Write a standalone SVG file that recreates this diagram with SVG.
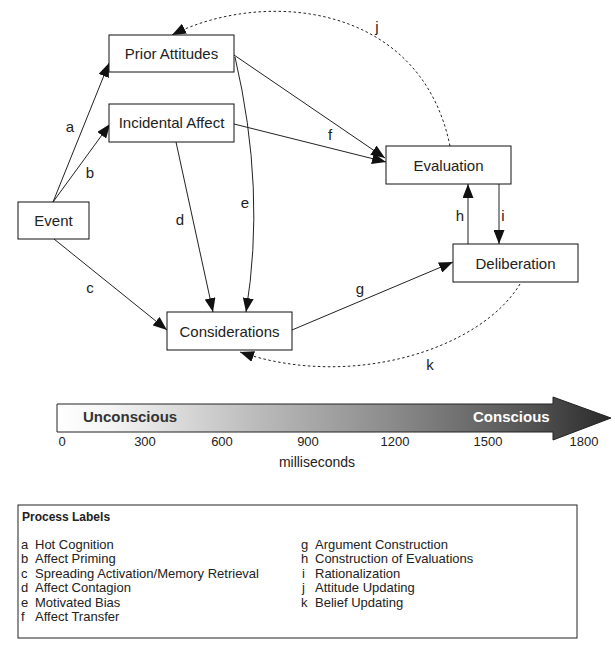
<svg xmlns="http://www.w3.org/2000/svg" width="615" height="645" viewBox="0 0 615 645">
<style>
.box{fill:#fff;stroke:#111;stroke-width:1}
.nl{font-family:"Liberation Sans",Arial,sans-serif;font-size:15px;fill:#222;text-anchor:middle}
.el{font-family:"Liberation Sans",Arial,sans-serif;font-size:15px;fill:#222;text-anchor:middle}
.edge{fill:none;stroke:#222;stroke-width:1}
.dash{fill:none;stroke:#222;stroke-width:1;stroke-dasharray:2.5 2.5}
.tk{font-family:"Liberation Sans",Arial,sans-serif;font-size:13px;fill:#222;text-anchor:middle}
.pl{font-family:"Liberation Sans",Arial,sans-serif;font-size:13px;fill:#222}
</style>
<defs>
<marker id="ah" markerUnits="userSpaceOnUse" markerWidth="15" markerHeight="11" refX="14" refY="5.5" orient="auto">
<path d="M0,0 L14,5.5 L0,11 z" fill="#111"/>
</marker>
<linearGradient id="tg" gradientUnits="userSpaceOnUse" x1="57" y1="0" x2="611" y2="0">
<stop offset="0" stop-color="#ffffff"/>
<stop offset="0.1" stop-color="#f4f4f4"/>
<stop offset="0.35" stop-color="#bdbdbd"/>
<stop offset="0.6" stop-color="#8c8c8c"/>
<stop offset="0.85" stop-color="#555555"/>
<stop offset="1" stop-color="#2a2a2a"/>
</linearGradient>
</defs>

<g id="connectors">
<path class="edge" d="M53,202 L109,63" marker-end="url(#ah)"/>
<path class="edge" d="M53,202 L110,124" marker-end="url(#ah)"/>
<path class="edge" d="M54,239 L167,330" marker-end="url(#ah)"/>
<path class="edge" d="M176,142 L213,312" marker-end="url(#ah)"/>
<path class="edge" d="M235,57 Q266,190 246,312" marker-end="url(#ah)"/>
<path class="edge" d="M234,55 L385,158" marker-end="url(#ah)"/>
<path class="edge" d="M234,124 L386,162" marker-end="url(#ah)"/>
<path class="edge" d="M292,330 L453,262" marker-end="url(#ah)"/>
<path class="edge" d="M468,244 L468,184" marker-end="url(#ah)"/>
<path class="edge" d="M499,184 L499,244" marker-end="url(#ah)"/>
<path class="dash" d="M450,146 C420,0 260,-10 172,35" marker-end="url(#ah)"/>
<path class="dash" d="M520,284 C480,350 350,390 240,352" marker-end="url(#ah)"/>
<text class="el" x="70" y="132">a</text>
<text class="el" x="90" y="178">b</text>
<text class="el" x="90" y="293">c</text>
<text class="el" x="180" y="225">d</text>
<text class="el" x="245" y="208">e</text>
<text class="el" x="330" y="140">f</text>
<text class="el" x="360" y="294">g</text>
<text class="el" x="460" y="221">h</text>
<text class="el" x="503" y="221">i</text>
<text class="el" x="377" y="32">j</text>
<text class="el" x="430" y="370">k</text>
</g>

<g id="prior-attitudes"><rect class="box" x="109" y="35" width="125" height="37"/><text class="nl" x="171.5" y="59">Prior Attitudes</text></g>
<g id="incidental-affect"><rect class="box" x="109" y="104" width="125" height="38"/><text class="nl" x="171.5" y="128">Incidental Affect</text></g>
<g id="event"><rect class="box" x="18" y="202" width="71" height="37"/><text class="nl" x="53.5" y="226">Event</text></g>
<g id="evaluation"><rect class="box" x="386" y="146" width="125" height="38"/><text class="nl" x="448.5" y="171">Evaluation</text></g>
<g id="deliberation"><rect class="box" x="453" y="244" width="125" height="38"/><text class="nl" x="515.5" y="269">Deliberation</text></g>
<g id="considerations"><rect class="box" x="167" y="312" width="125" height="38"/><text class="nl" x="229.5" y="337">Considerations</text></g>

<g id="timeline">
<path d="M57,404 L553,404 L553,397 L611,418 L553,440 L553,432 L57,432 z" fill="url(#tg)" stroke="#222" stroke-width="1"/>
<text x="83" y="422" font-family="'Liberation Sans',Arial,sans-serif" font-size="15" font-weight="bold" fill="#333">Unconscious</text>
<text x="473" y="422" font-family="'Liberation Sans',Arial,sans-serif" font-size="15" font-weight="bold" fill="#fff">Conscious</text>
<text class="tk" x="62" y="446">0</text>
<text class="tk" x="145" y="446">300</text>
<text class="tk" x="222" y="446">600</text>
<text class="tk" x="308" y="446">900</text>
<text class="tk" x="395" y="446">1200</text>
<text class="tk" x="488" y="446">1500</text>
<text class="tk" x="584" y="446">1800</text>
<text x="317" y="467" font-family="'Liberation Sans',Arial,sans-serif" font-size="14" fill="#222" text-anchor="middle">milliseconds</text>
</g>

<g id="process-labels">
<rect x="18" y="505" width="559" height="133" fill="#fff" stroke="#222" stroke-width="1"/>
<text x="22" y="521" font-family="'Liberation Sans',Arial,sans-serif" font-size="12" font-weight="bold" fill="#222">Process Labels</text>
<text class="pl" x="21" y="549">a</text><text class="pl" x="35" y="549">Hot Cognition</text>
<text class="pl" x="21" y="563">b</text><text class="pl" x="35" y="563">Affect Priming</text>
<text class="pl" x="21" y="578">c</text><text class="pl" x="35" y="578">Spreading Activation/Memory Retrieval</text>
<text class="pl" x="21" y="592">d</text><text class="pl" x="35" y="592">Affect Contagion</text>
<text class="pl" x="21" y="607">e</text><text class="pl" x="35" y="607">Motivated Bias</text>
<text class="pl" x="21" y="621">f</text><text class="pl" x="35" y="621">Affect Transfer</text>
<text class="pl" x="301" y="549">g</text><text class="pl" x="315" y="549">Argument Construction</text>
<text class="pl" x="301" y="563">h</text><text class="pl" x="315" y="563">Construction of Evaluations</text>
<text class="pl" x="302" y="578">i</text><text class="pl" x="315" y="578">Rationalization</text>
<text class="pl" x="302" y="592">j</text><text class="pl" x="315" y="592">Attitude Updating</text>
<text class="pl" x="301" y="607">k</text><text class="pl" x="315" y="607">Belief Updating</text>
</g>
</svg>
